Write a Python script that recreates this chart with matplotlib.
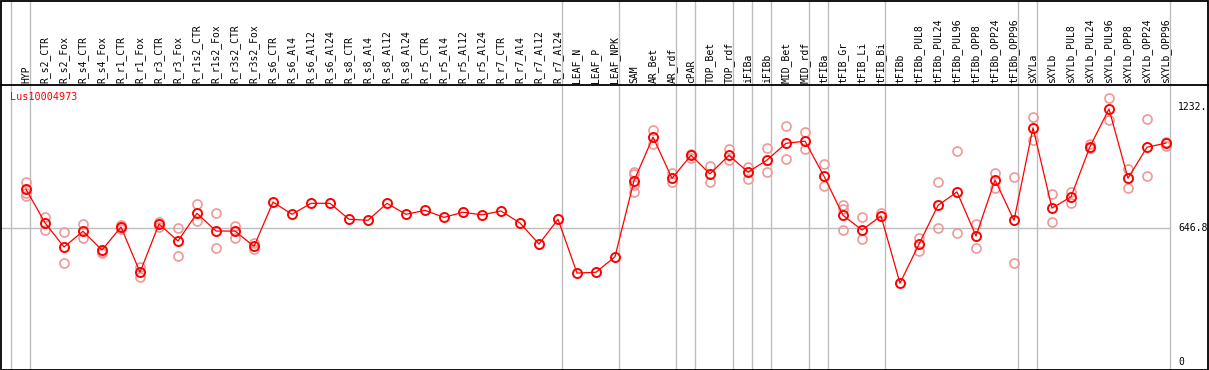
import matplotlib
matplotlib.use("Agg")
import matplotlib.pyplot as plt
from matplotlib.patches import Rectangle

# categories along the x axis
samples = ["HYP", "R_s2_CTR", "R_s2_Fox", "R_s4_CTR", "R_s4_Fox", "R_r1_CTR", "R_r1_Fox",
           "R_r3_CTR", "R_r3_Fox", "R_r1s2_CTR", "R_r1s2_Fox", "R_r3s2_CTR", "R_r3s2_Fox",
           "R_s6_CTR", "R_s6_Al4", "R_s6_Al12", "R_s6_Al24", "R_s8_CTR", "R_s8_Al4", "R_s8_Al12",
           "R_s8_Al24", "R_r5_CTR", "R_r5_Al4", "R_r5_Al12", "R_r5_Al24", "R_r7_CTR", "R_r7_Al4",
           "R_r7_Al12", "R_r7_Al24", "LEAF_N", "LEAF_P", "LEAF_NPK", "SAM", "AR_Bet", "AR_rdf",
           "cPAR", "TOP_Bet", "TOP_rdf", "iFIBa", "iFIBb", "MID_Bet", "MID_rdf", "tFIBa",
           "tFIB_Gr", "tFIB_Li", "tFIB_Bi", "tFIBb", "tFIBb_PUL8", "tFIBb_PUL24", "tFIBb_PUL96",
           "tFIBb_OPP8", "tFIBb_OPP24", "tFIBb_OPP96", "sXYLa", "sXYLb", "sXYLb_PUL8",
           "sXYLb_PUL24", "sXYLb_PUL96", "sXYLb_OPP8", "sXYLb_OPP24", "sXYLb_OPP96"]

# mean expression
mean_vals = [836, 674, 557, 633, 542, 654, 435, 668, 586, 720, 634, 634, 560,
             774, 715, 768, 768, 691, 686, 768, 715, 734, 700, 725, 712, 731, 673, 571, 691,
             431, 435, 510, 877, 1088, 889, 1000, 910, 1000, 919, 977, 1058, 1068, 899,
             710, 639, 707, 382, 571, 758, 823, 610, 881, 686,
             1133, 745, 799, 1042, 1224, 889, 1039, 1059]

# replicate values
rep_vals = [[870, 816, 805], [703, 639], [629, 478], [668, 600], [534, 528], [644, 661],
            [462, 413], [679, 655], [650, 512], [765, 683], [721, 552], [658, 602], [575, 546],
            [], [], [], [], [], [], [], [], [], [], [], [], [], [], [], [], [], [], [],
            [918, 910, 856, 821], [1122, 1053], [913, 872], [1005, 985], [948, 872],
            [1030, 976], [945, 887], [1034, 918], [1142, 981], [1113, 1029], [956, 850],
            [760, 741, 639], [702, 596], [720], [],
            [602, 539], [870, 647], [1021, 623], [667, 551], [914, 843], [894, 480],
            [1184, 1074], [812, 676], [824, 768], [1055, 1034], [1277, 1169], [934, 841],
            [1175, 900], [1066, 1046]]

# last sample index of each group
group_ends = [-1, 0, 28, 31, 34, 35, 37, 38, 39, 41, 42, 45, 52, 53, 60]
ytick_vals = [1232, 646.8, 0]
ytick_text = ["1232.", "646.8", "0"]
gene = "Lus10004973"

mono = "DejaVu Sans Mono"
fig = plt.figure(figsize=(12.09, 3.70), dpi=100)
ax = fig.add_axes([1 / 1209, 1 / 370, 1207 / 1209, 284 / 370])
ax.set_xlim(-25 / 19, 1182 / 19)
ax.set_ylim(-32.4, 1339.6)
ax.axis("off")
top = 369 / 284

for g in group_ends:
    ax.axvline(g + 0.2, ymin=0, ymax=top, color="#bdbdbd", lw=1.0, clip_on=False, zorder=1)
ax.hlines(646.8, -25 / 19, 60.2, color="#bdbdbd", lw=1.0, zorder=1)

xs = list(range(len(samples)))
for i, reps in enumerate(rep_vals):
    ax.plot([i] * len(reps), reps, "o", ms=6.5, mfc="none", mec="#ee9999", mew=1.2,
            zorder=2, clip_on=False)
ax.plot(xs, mean_vals, "-", color="#ff0000", lw=0.9, zorder=3)
ax.plot(xs, mean_vals, "o", ms=6.5, mfc="none", mec="#ff0000", mew=1.4, zorder=4)

for i, s in enumerate(samples):
    ax.text(i, 1.007, s, transform=ax.get_xaxis_transform(), rotation=90, ha="center",
            va="bottom", fontsize=7, family=mono, color="black")

for v, t in zip(ytick_vals, ytick_text):
    ax.text(60.63, v, t, ha="left", va="center", fontsize=7, family=mono, color="black",
            clip_on=True)

ax.text(10 / 1209, 1 - 97 / 370, gene, transform=fig.transFigure, ha="left", va="center",
        fontsize=7.3, family=mono, color="#ff0000")

# frame
fig.add_artist(Rectangle((0.5 / 1209, 0.5 / 370), 1207.5 / 1209, 369 / 370, fill=False,
                         ec="black", lw=1.3, transform=fig.transFigure))
fig.add_artist(plt.Line2D([0, 1], [1 - 85 / 370, 1 - 85 / 370], color="black", lw=1.3,
                          transform=fig.transFigure))

fig.savefig("out.png", dpi=100)
